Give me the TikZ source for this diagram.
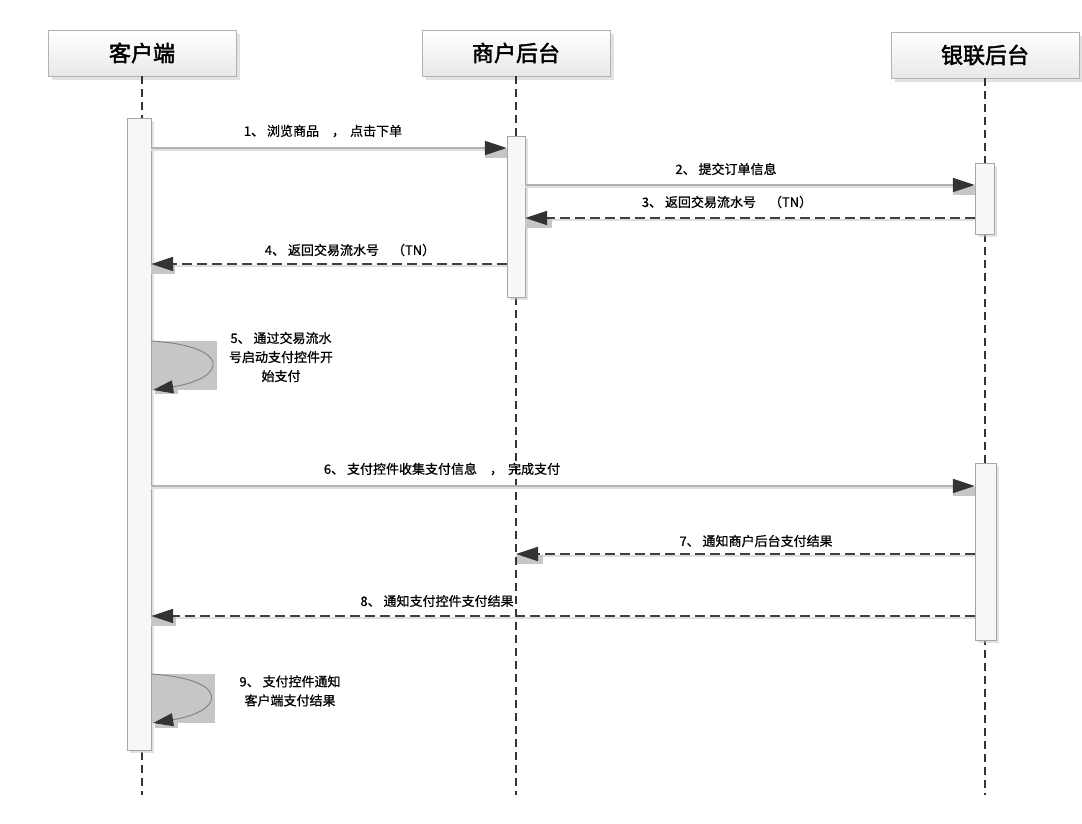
\documentclass[tikz,border=0pt]{standalone}
\usepackage{fontspec}
\setmainfont{Noto Sans CJK SC}
\newfontfamily\titlefont[FakeBold=2]{Noto Sans CJK SC}
\newfontfamily\labelfont[FakeBold=0.8]{Noto Sans CJK SC}
\usetikzlibrary{arrows.meta,calc,shadows}
\begin{document}
\begin{tikzpicture}[x=1pt,y=-1pt]
\tikzset{
 head/.style={draw=gray!60, top color=white, bottom color=gray!18, minimum width=188pt, minimum height=46pt, font=\titlefont\fontsize{22}{25}\selectfont, drop shadow={shadow xshift=4pt,shadow yshift=-4pt,fill=gray!45}},
 act/.style={draw=gray!70, fill=gray!6, inner sep=0pt, drop shadow={shadow xshift=3pt,shadow yshift=-3pt,fill=gray!45}},
 life/.style={draw=black!80, line width=2.6pt, dash pattern=on 8pt off 5pt},
 sync/.style={draw=gray!60, line width=1.8pt},
 ret/.style={draw=black!75, line width=2pt, dash pattern=on 10pt off 5pt},
 shd/.style={draw=gray!25, line width=1.6pt},
 tip/.style={-{Triangle[length=22pt,width=14pt,color=black!80]}},
 tipshd/.style={fill=gray!45},
 lbl/.style={font=\labelfont\fontsize{13}{19}\selectfont, inner sep=1pt, align=center},
 loopbox/.style={fill=gray!45},
 loopline/.style={draw=black!50, line width=0.9pt, -{Triangle[length=20pt,width=13pt,color=black!80]}},
}
\useasboundingbox[fill=white] (0,0) rectangle (1082,824);
% headers
\node[head] (h1) at (142,53) {客户端};
\node[head] (h2) at (516,53) {商户后台};
\node[head] (h3) at (985,55) {银联后台};
% lifelines
\draw[life] (h1.south) -- (h1.south |- 0,795);
\draw[life] (h2.south) -- (h2.south |- 0,795);
\draw[life] (h3.south) -- (h3.south |- 0,795);
% activations
\node[act, minimum width=24pt, minimum height=632pt] (c1) at (139,434) {};
\node[act, minimum width=18pt, minimum height=161pt] (m1) at (516,216.5) {};
\node[act, minimum width=19pt, minimum height=71pt] (b1) at (984.5,198.5) {};
\node[act, minimum width=21pt, minimum height=177pt] (b2) at (985.5,551.5) {};
% 1
\draw[shd] (c1.east |- 0,150) -- (m1.west |- 0,150);
\fill[tipshd] (485,149) rectangle (507,158);
\draw[sync,tip] (c1.east |- 0,148) -- (m1.west |- 0,148);
\node[lbl] (l1) at (323,131) {1、 浏览商品\quad ，\, 点击下单};
% 2
\draw[shd] (m1.east |- 0,187) -- (b1.west |- 0,187);
\fill[tipshd] (953,186) rectangle (975,195);
\draw[sync,tip] (m1.east |- 0,185) -- (b1.west |- 0,185);
\node[lbl] (l2) at (726,169) {2、 提交订单信息};
% 3
\draw[shd] (b1.west |- 0,220) -- (m1.east |- 0,220);
\fill[tipshd] (525,219) rectangle (552,228);
\draw[ret,tip] (b1.west |- 0,218) -- (m1.east |- 0,218);
\node[lbl] (l3) at (727,202) {3、 返回交易流水号\quad （TN）};
% 4
\draw[shd] (m1.west |- 0,266) -- (c1.east |- 0,266);
\fill[tipshd] (151,265) rectangle (175,274);
\draw[ret,tip] (m1.west |- 0,264) -- (c1.east |- 0,264);
\node[lbl] (l4) at (350,250) {4、 返回交易流水号\quad （TN）};
% 5 self
\fill[loopbox] (152,341) rectangle (217,390);
\fill[loopbox] (155,388) rectangle (178,394);
\draw[loopline] (c1.east |- 0,341) .. controls (232,346) and (228,378) .. ($(c1.east |- 0,390)+(2,0)$);
\node[lbl] (l5) at (281,357) {5、 通过交易流水\\号启动支付控件开\\始支付};
% 6
\draw[shd] (c1.east |- 0,488) -- (b2.west |- 0,488);
\fill[tipshd] (953,487) rectangle (975,496);
\draw[sync,tip] (c1.east |- 0,486) -- (b2.west |- 0,486);
\node[lbl] (l6) at (442,469) {6、 支付控件收集支付信息\quad ，\, 完成支付};
% 7
\draw[shd] (b2.west |- 0,556) -- (h2.south |- 0,556);
\fill[tipshd] (517,555) rectangle (543,564);
\draw[ret,tip] (b2.west |- 0,554) -- (h2.south |- 0,554);
\node[lbl] (l7) at (756,541) {7、 通知商户后台支付结果};
% 8
\draw[shd] (b2.west |- 0,618) -- (c1.east |- 0,618);
\fill[tipshd] (151,617) rectangle (176,626);
\draw[ret,tip] (b2.west |- 0,616) -- (c1.east |- 0,616);
\node[lbl] (l8) at (437,601) {8、 通知支付控件支付结果};
% 9 self
\fill[loopbox] (152,674) rectangle (215,723);
\fill[loopbox] (155,721) rectangle (178,728);
\draw[loopline] (c1.east |- 0,674) .. controls (230,679) and (226,711) .. ($(c1.east |- 0,723)+(2,0)$);
\node[lbl] (l9) at (290,691) {9、 支付控件通知\\客户端支付结果};
\end{tikzpicture}
\end{document}
